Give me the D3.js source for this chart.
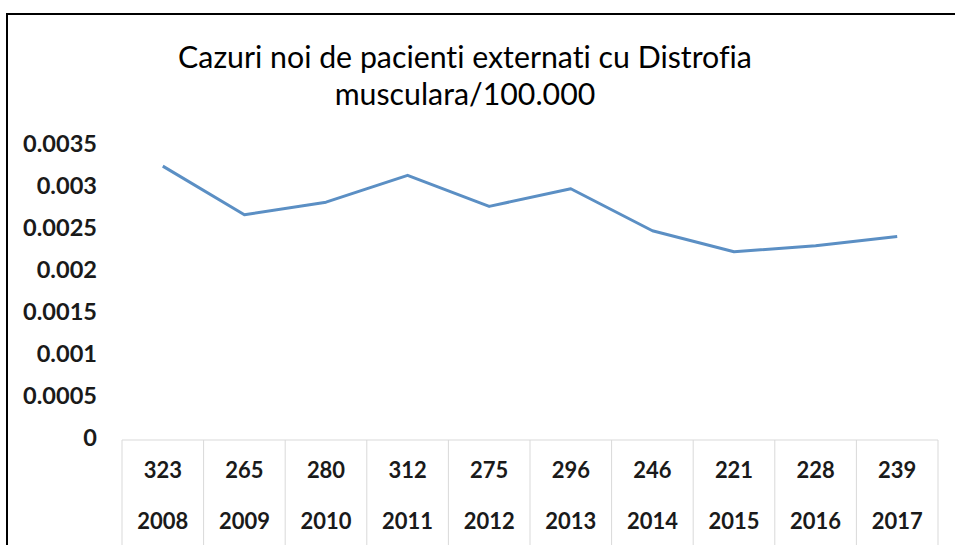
<!DOCTYPE html>
<html>
<head>
<meta charset="utf-8">
<script src="https://cdn.jsdelivr.net/npm/d3@7"></script>
<style>
  html, body { margin: 0; padding: 0; background: #fff; }
  svg { display: block; }
  text { font-variant-ligatures: none; font-feature-settings: "liga" 0, "clig" 0; }
</style>
</head>
<body>
<svg id="chart" width="955" height="545"></svg>
<script>
const titleLines = ["Cazuri noi de pacienti externati cu Distrofia", "musculara/100.000"];
const years = ["2008", "2009", "2010", "2011", "2012", "2013", "2014", "2015", "2016", "2017"];
const counts = ["323", "265", "280", "312", "275", "296", "246", "221", "228", "239"];
const rates = [0.00323, 0.00265, 0.0028, 0.00312, 0.00275, 0.00296, 0.00246, 0.00221, 0.00228, 0.00239];
const yTicks = [0, 0.0005, 0.001, 0.0015, 0.002, 0.0025, 0.003, 0.0035];
const yTickLabels = ["0", "0.0005", "0.001", "0.0015", "0.002", "0.0025", "0.003", "0.0035"];

const svg = d3.select("#chart");
const W = 955, H = 545;
const plotLeft = 122, plotRight = 938, plotTop = 143.5, plotBottom = 437;
const tableTop = 440;

// outer frame (top and left edges visible)
svg.append("line").attr("x1", 7).attr("x2", W).attr("y1", 14).attr("y2", 14)
  .attr("stroke", "#000").attr("stroke-width", 2);
svg.append("line").attr("x1", 7).attr("x2", 7).attr("y1", 13).attr("y2", H)
  .attr("stroke", "#000").attr("stroke-width", 2);

const x = d3.scaleBand().domain(years).range([plotLeft, plotRight]).padding(0);
const y = d3.scaleLinear().domain([0, 0.0035]).range([plotBottom, plotTop]);

const font = "Lato, 'Open Sans', sans-serif";

function fitSize(text, weight, targetWidth) {
  const t = svg.append("text").attr("font-family", font).attr("font-size", 20)
    .attr("font-weight", weight).text(text);
  const w = t.node().getComputedTextLength();
  t.remove();
  return 20 * targetWidth / w;
}

// title
const titleSize = fitSize(titleLines[0], 400, 574);
const tY = [60, 97];
titleLines.forEach((t, i) => {
  svg.append("text").attr("x", 465).attr("y", tY[i])
    .attr("text-anchor", "middle").attr("dominant-baseline", "middle")
    .attr("font-family", font).attr("font-size", titleSize).attr("font-weight", 400)
    .attr("fill", "#000").text(t);
});

// y axis
const axisSize = fitSize("0.0035", 700, 74);
const yAxis = d3.axisLeft(y).tickValues(yTicks)
  .tickFormat((d, i) => yTickLabels[i]).tickSize(0).tickPadding(0);
const ya = svg.append("g").attr("transform", "translate(97,0)").call(yAxis);
ya.select(".domain").remove();
ya.selectAll("text").attr("font-family", font).attr("font-size", axisSize)
  .attr("font-weight", 700).attr("fill", "#1a1a1a").attr("dy", "0.35em");

// table-style category axis
const catSize = fitSize("2008", 700, 51);
const tbl = svg.append("g");
tbl.append("line").attr("x1", plotLeft).attr("x2", plotRight)
  .attr("y1", tableTop).attr("y2", tableTop)
  .attr("stroke", "#d9d9d9").attr("stroke-width", 1);
const bounds = years.map(d => x(d)).concat([x(years[years.length - 1]) + x.bandwidth()]);
tbl.selectAll("line.v").data(bounds).enter().append("line").attr("class", "v")
  .attr("x1", d => d).attr("x2", d => d).attr("y1", tableTop).attr("y2", H)
  .attr("stroke", "#d9d9d9").attr("stroke-width", 1);
tbl.selectAll("text.cnt").data(years).enter().append("text").attr("class", "cnt")
  .attr("x", d => x(d) + x.bandwidth() / 2).attr("y", 472)
  .attr("text-anchor", "middle").attr("dominant-baseline", "middle")
  .attr("font-family", font).attr("font-size", catSize).attr("font-weight", 700)
  .attr("fill", "#1a1a1a").text((d, i) => counts[i]);
tbl.selectAll("text.yr").data(years).enter().append("text").attr("class", "yr")
  .attr("x", d => x(d) + x.bandwidth() / 2).attr("y", 523)
  .attr("text-anchor", "middle").attr("dominant-baseline", "middle")
  .attr("font-family", font).attr("font-size", catSize).attr("font-weight", 700)
  .attr("fill", "#1a1a1a").text(d => d);

// line
const line = d3.line().x((d, i) => x(years[i]) + x.bandwidth() / 2).y(d => y(d));
svg.append("path").datum(rates).attr("d", line)
  .attr("fill", "none").attr("stroke", "#5b8fc4").attr("stroke-width", 3)
  .attr("stroke-linejoin", "round").attr("stroke-linecap", "butt");
</script>
</body>
</html>
